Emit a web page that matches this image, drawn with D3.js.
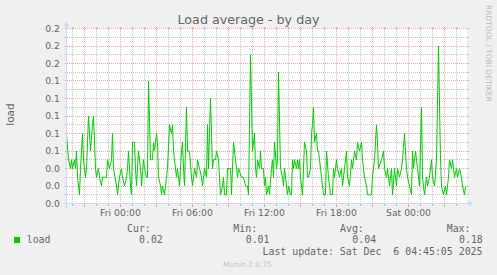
<!DOCTYPE html>
<html><head><meta charset="utf-8">
<script src="https://cdn.jsdelivr.net/npm/d3@7"></script>
<style>
html,body{margin:0;padding:0;background:#f0f0f0;}
svg{display:block;}
text{white-space:pre;}
</style>
</head><body>
<svg id="chart" width="497" height="275"></svg>
<script>
// ---------------- data ----------------
const chartTitle = "Load average - by day";
const yAxisLabel = "load";
const seriesName = "load";
const sideText = "RRDTOOL / TOBI OETIKER";
const footerText = "Munin 2.0.75";
const lastUpdate = "Last update: Sat Dec  6 04:45:05 2025";
const startTime = "2025-12-04T19:30:00Z";   // left edge of the graph
const spanMinutes = 2000;                     // graph covers 33h20m
const yTickValues = [0, 0.02, 0.04, 0.06, 0.08, 0.10, 0.12, 0.14, 0.16, 0.18, 0.20];
const yMinorValues = [0.01, 0.03, 0.05, 0.07, 0.09, 0.11, 0.13, 0.15, 0.17, 0.19];
const xLabelTimes = ["2025-12-05T00:00:00Z", "2025-12-05T06:00:00Z", "2025-12-05T12:00:00Z", "2025-12-05T18:00:00Z", "2025-12-06T00:00:00Z"];
const statLabels = ["Cur:", "Min:", "Avg:", "Max:"];
const statValues = ["0.02", "0.01", "0.04", "0.18"];
// [minutes after start, load]
const loadSeries = [
[0,0.08],[10,0.05],[20,0.04],[25,0.05],[30,0.04],[40,0.05],[45,0.04],[50,0.06],[55,0.03],[60,0.02],
[65,0.01],[70,0.04],[80,0.08],[85,0.05],[95,0.03],[100,0.04],[110,0.10],[120,0.06],[130,0.09],[135,0.10],
[145,0.04],[150,0.03],[160,0.04],[165,0.03],[175,0.02],[180,0.03],[200,0.03],[205,0.05],[215,0.04],[225,0.05],
[230,0.08],[235,0.04],[250,0.02],[255,0.01],[265,0.03],[275,0.04],[280,0.03],[290,0.02],[300,0.03],[305,0.04],
[310,0.06],[320,0.02],[325,0.01],[330,0.07],[340,0.07],[345,0.04],[350,0.02],[360,0.06],[370,0.04],[375,0.02],
[385,0.05],[390,0.04],[400,0.03],[405,0.03],[410,0.14],[420,0.05],[430,0.05],[435,0.07],[440,0.06],[450,0.08],
[455,0.07],[460,0.03],[470,0.02],[475,0.01],[480,0.02],[490,0.01],[500,0.03],[505,0.04],[515,0.09],[525,0.08],
[530,0.09],[535,0.06],[540,0.05],[550,0.03],[555,0.04],[565,0.02],[575,0.06],[580,0.07],[585,0.04],[590,0.02],
[600,0.11],[605,0.06],[615,0.06],[625,0.03],[630,0.02],[640,0.04],[650,0.03],[655,0.05],[665,0.04],[675,0.03],
[680,0.02],[690,0.04],[700,0.03],[705,0.09],[710,0.04],[720,0.12],[730,0.04],[735,0.05],[745,0.05],[750,0.06],
[760,0.05],[765,0.03],[770,0.01],[780,0.02],[785,0.03],[790,0.01],[800,0.01],[805,0.04],[820,0.04],[825,0.01],
[835,0.07],[840,0.06],[850,0.04],[855,0.03],[860,0.04],[875,0.03],[885,0.03],[895,0.02],[905,0.02],[910,0.01],
[920,0.17],[930,0.06],[940,0.08],[945,0.04],[950,0.03],[955,0.05],[965,0.04],[970,0.06],[975,0.04],[985,0.04],
[990,0.02],[995,0.03],[1000,0.01],[1010,0.02],[1015,0.01],[1025,0.04],[1030,0.05],[1035,0.03],[1040,0.07],[1050,0.04],
[1055,0.05],[1060,0.15],[1070,0.04],[1080,0.03],[1085,0.02],[1090,0.04],[1100,0.02],[1105,0.01],[1110,0.02],[1120,0.01],
[1125,0.01],[1130,0.05],[1135,0.04],[1140,0.05],[1150,0.04],[1155,0.05],[1160,0.04],[1165,0.05],[1170,0.03],[1180,0.01],
[1185,0.04],[1190,0.07],[1200,0.06],[1205,0.03],[1210,0.03],[1220,0.04],[1225,0.08],[1230,0.09],[1235,0.11],[1240,0.07],
[1250,0.08],[1255,0.06],[1260,0.06],[1265,0.05],[1270,0.04],[1280,0.02],[1285,0.01],[1295,0.01],[1300,0.06],[1310,0.03],
[1315,0.02],[1320,0.01],[1330,0.01],[1335,0.04],[1340,0.03],[1350,0.05],[1355,0.04],[1365,0.03],[1375,0.04],[1380,0.02],
[1390,0.04],[1400,0.06],[1405,0.03],[1415,0.02],[1425,0.05],[1430,0.04],[1440,0.06],[1450,0.05],[1455,0.07],[1465,0.06],
[1475,0.07],[1480,0.05],[1490,0.03],[1500,0.02],[1505,0.01],[1525,0.01],[1530,0.03],[1540,0.05],[1550,0.09],[1555,0.07],
[1560,0.04],[1575,0.05],[1585,0.06],[1590,0.04],[1600,0.03],[1605,0.04],[1615,0.02],[1625,0.04],[1630,0.01],[1640,0.04],
[1650,0.02],[1655,0.04],[1665,0.03],[1675,0.04],[1680,0.05],[1690,0.08],[1700,0.04],[1705,0.03],[1715,0.02],[1725,0.01],
[1730,0.06],[1735,0.04],[1745,0.06],[1755,0.04],[1765,0.02],[1775,0.11],[1780,0.03],[1790,0.01],[1800,0.03],[1805,0.02],
[1815,0.03],[1825,0.05],[1830,0.03],[1840,0.02],[1850,0.05],[1860,0.18],[1870,0.05],[1875,0.02],[1885,0.01],[1895,0.02],
[1900,0.01],[1910,0.03],[1915,0.05],[1925,0.04],[1930,0.05],[1940,0.03],[1950,0.04],[1955,0.03],[1965,0.04],[1975,0.03],
[1980,0.02],[1990,0.01],[1995,0.02]
];

// ---------------- layout / style ----------------
const X0 = 66.5, X1 = 466.5, Y0 = 203.5, Y1 = 28.5;
const FONT = "DejaVu Sans, Verdana, sans-serif";
const MONO = "DejaVu Sans Mono, monospace";
const FONT_COLOR = "#666666";
const AXIS_COLOR = "#CFD6F8";
const GRID_COLOR = "rgba(143,143,143,0.55)";
const MGRID_COLOR = "rgba(222,79,79,0.5)";
const LINE_COLOR = "#00CC00";

const svg = d3.select("#chart");
const t0 = new Date(startTime);
const t1 = new Date(t0.getTime() + spanMinutes * 60000);
const x = d3.scaleUtc().domain([t0, t1]).range([X0, X1]);
const y = d3.scaleLinear().domain([0, 0.2]).range([Y0, Y1]);

svg.append("rect").attr("width", 497).attr("height", 275).attr("fill", "#f0f0f0");
svg.append("rect").attr("x", X0 + 0.5).attr("y", Y1 - 0.5).attr("width", X1 - X0).attr("height", Y0 - Y1)
  .attr("fill", "#ffffff");

const grid = svg.append("g").attr("shape-rendering", "crispEdges");
// horizontal minor
yMinorValues.forEach(v => {
  const yy = Math.round(y(v) - 0.5) + 0.5;
  grid.append("line").attr("x1", X0 - 2).attr("x2", X0).attr("y1", yy).attr("y2", yy).attr("stroke", GRID_COLOR);
  grid.append("line").attr("x1", X1).attr("x2", X1 + 2).attr("y1", yy).attr("y2", yy).attr("stroke", GRID_COLOR);
  grid.append("line").attr("x1", X0).attr("x2", X1).attr("y1", yy).attr("y2", yy)
    .attr("stroke", GRID_COLOR).attr("stroke-dasharray", "1,1");
});
// vertical minor (hourly) and major (3-hourly)
const hours = d3.utcHour.range(t0, t1);
hours.forEach(h => {
  const major = h.getUTCHours() % 3 === 0;
  const xx = Math.round(x(h) - 0.5) + 0.5;
  const c = major ? MGRID_COLOR : GRID_COLOR;
  grid.append("line").attr("x1", xx).attr("x2", xx).attr("y1", Y0).attr("y2", Y0 + (major ? 3 : 2)).attr("stroke", c);
  grid.append("line").attr("x1", xx).attr("x2", xx).attr("y1", Y1 - 2).attr("y2", Y1).attr("stroke", c);
  if (!major) grid.append("line").attr("x1", xx).attr("x2", xx).attr("y1", Y1).attr("y2", Y0)
    .attr("stroke", c).attr("stroke-dasharray", "1,1");
});
hours.filter(h => h.getUTCHours() % 3 === 0).forEach(h => {
  const xx = Math.round(x(h) - 0.5) + 0.5;
  grid.append("line").attr("x1", xx).attr("x2", xx).attr("y1", Y1).attr("y2", Y0)
    .attr("stroke", MGRID_COLOR).attr("stroke-dasharray", "1,1");
});
// horizontal major
yTickValues.forEach(v => {
  const yy = Math.round(y(v) - 0.5) + 0.5;
  grid.append("line").attr("x1", X0 - 2).attr("x2", X0).attr("y1", yy).attr("y2", yy).attr("stroke", MGRID_COLOR);
  grid.append("line").attr("x1", X1).attr("x2", X1 + 2).attr("y1", yy).attr("y2", yy).attr("stroke", MGRID_COLOR);
  grid.append("line").attr("x1", X0).attr("x2", X1).attr("y1", yy).attr("y2", yy)
    .attr("stroke", MGRID_COLOR).attr("stroke-dasharray", "1,1");
});

// y tick labels
const fmt = d3.format(".1f");
svg.append("g").selectAll("text").data(yTickValues).join("text")
  .attr("x", 60).attr("y", d => y(d) + 3.3)
  .attr("text-anchor", "end").attr("font-family", FONT).attr("font-size", 9.3)
  .attr("fill", FONT_COLOR).text(d => fmt(d));

// x tick labels
const xfmt = d3.utcFormat("%a %H:%M");
svg.append("g").selectAll("text").data(xLabelTimes.map(s => new Date(s))).join("text")
  .attr("x", d => x(d)).attr("y", 216)
  .attr("text-anchor", "middle").attr("font-family", FONT).attr("font-size", 9.3)
  .attr("fill", FONT_COLOR).text(d => xfmt(d));

// data line
const pts = loadSeries.map(([m, v]) => ({t: new Date(t0.getTime() + m * 60000), v}));
svg.append("path").datum(pts)
  .attr("d", d3.line().x(d => x(d.t)).y(d => y(d.v)))
  .attr("fill", "none").attr("stroke", LINE_COLOR).attr("stroke-width", 1).attr("stroke-linejoin", "round");

// axes + arrows
const ax = svg.append("g");
ax.append("line").attr("x1", X0 - 4).attr("x2", X1 + 4).attr("y1", Y0).attr("y2", Y0)
  .attr("stroke", AXIS_COLOR).attr("shape-rendering", "crispEdges");
ax.append("line").attr("x1", X0).attr("x2", X0).attr("y1", Y0 + 4).attr("y2", Y1 - 4)
  .attr("stroke", AXIS_COLOR).attr("shape-rendering", "crispEdges");
ax.append("path").attr("d", `M${X1 + 2},${Y0 - 3}L${X1 + 2},${Y0 + 3}L${X1 + 7},${Y0}Z`).attr("fill", AXIS_COLOR);
ax.append("path").attr("d", `M${X0 - 3},${Y1 - 2}L${X0 + 3},${Y1 - 2}L${X0},${Y1 - 7}Z`).attr("fill", AXIS_COLOR);

// title
svg.append("text").attr("x", 248.5).attr("y", 24).attr("text-anchor", "middle")
  .attr("font-family", FONT).attr("font-size", 12.7).attr("fill", FONT_COLOR).text(chartTitle);

// y axis label
svg.append("text").attr("transform", "translate(14,114.5) rotate(-90)").attr("text-anchor", "middle")
  .attr("font-family", FONT).attr("font-size", 10.5).attr("fill", FONT_COLOR).text(yAxisLabel);

// side text
svg.append("text").attr("transform", "translate(485.5,5) rotate(90)").attr("text-anchor", "start")
  .attr("font-family", FONT).attr("font-size", 7.5).attr("fill", "#bbbbbb").text(sideText);

// legend
const statX = [127, 233.3, 340, 446.7];
const valX = [139, 245.7, 352.3, 459];
svg.append("rect").attr("x", 14).attr("y", 237).attr("width", 6).attr("height", 6).attr("fill", LINE_COLOR);
svg.append("text").attr("x", 26.7).attr("y", 243.3).attr("font-family", MONO).attr("font-size", 9.9)
  .attr("fill", FONT_COLOR).text(seriesName);
svg.append("g").selectAll("text").data(statLabels).join("text")
  .attr("x", (d, i) => statX[i]).attr("y", 231.5).attr("font-family", MONO).attr("font-size", 9.9)
  .attr("fill", FONT_COLOR).text(d => d);
svg.append("g").selectAll("text").data(statValues).join("text")
  .attr("x", (d, i) => valX[i]).attr("y", 243.3).attr("font-family", MONO).attr("font-size", 9.9)
  .attr("fill", FONT_COLOR).text(d => d);
svg.append("text").attr("x", 482.5).attr("y", 255).attr("text-anchor", "end").attr("font-family", MONO)
  .attr("font-size", 9.9).attr("fill", FONT_COLOR).text(lastUpdate);
svg.append("text").attr("x", 247.5).attr("y", 266.5).attr("text-anchor", "middle").attr("font-family", FONT)
  .attr("font-size", 7.5).attr("fill", "#c4c4c4").text(footerText);
</script>
</body></html>
